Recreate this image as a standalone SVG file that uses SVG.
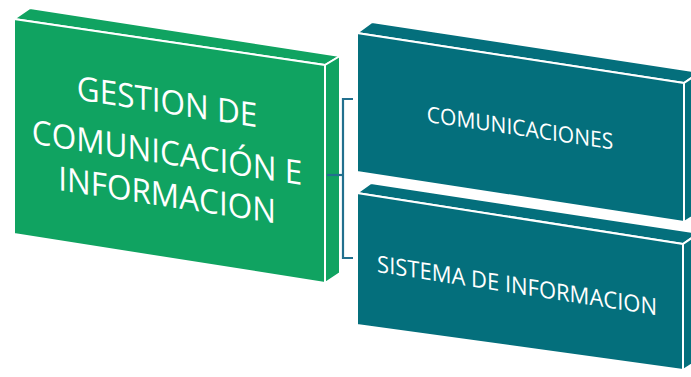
<svg xmlns="http://www.w3.org/2000/svg" width="691" height="377" viewBox="0 0 691 377">
<style>
.g{fill:#10a361;stroke:#fff;stroke-width:2;stroke-linejoin:round}
.t{fill:#046f7c;stroke:#fff;stroke-width:2;stroke-linejoin:round}
.lbl{font-family:"Open Sans","DejaVu Sans",sans-serif;fill:#fff;text-anchor:middle}
.con{fill:none;stroke:#22708e;stroke-width:2.2}
</style>
<rect width="691" height="377" fill="#fff"/>
<g id="node-gestion">
<polygon class="g" points="14,19 30,8 340,56 325,65"/>
<polygon class="g" points="325,65 340,56 340,273 325,283"/>
<polygon class="g" points="14,19 325,65 325,283 14,234"/>
<g transform="matrix(1,0.153,0,1.06,167,0)">
<text class="lbl" font-size="31.5" x="0" y="107">GESTION DE</text>
<text class="lbl" font-size="31.5" x="0" y="155">COMUNICACIÓN E</text>
<text class="lbl" font-size="31.5" x="0" y="195">INFORMACION</text>
</g>
</g>
<g id="connectors">
<polyline class="con" points="353,99 343,99 343,258 353,258"/>
<line class="con" x1="327" y1="175" x2="343" y2="175"/>
</g>
<g id="node-comunicaciones">
<polygon class="t" points="357,33 372,22 700,72 684,83"/>
<polygon class="t" points="684,83 700,72 700,212 684,222"/>
<polygon class="t" points="357,33 684,83 684,222 357,172"/>
<g transform="matrix(1,0.148,0,1.06,520,0)">
<text class="lbl" font-size="21" x="0" y="128">COMUNICACIONES</text>
</g>
</g>
<g id="node-sistema">
<polygon class="t" points="357,193 371,183 699,233 683,244"/>
<polygon class="t" points="683,244 699,233 699,360 683,370"/>
<polygon class="t" points="357,193 683,244 683,370 357,325"/>
<g transform="matrix(1,0.155,0,1.06,517,0)">
<text class="lbl" font-size="22" x="0" y="277">SISTEMA DE INFORMACION</text>
</g>
</g>
</svg>
